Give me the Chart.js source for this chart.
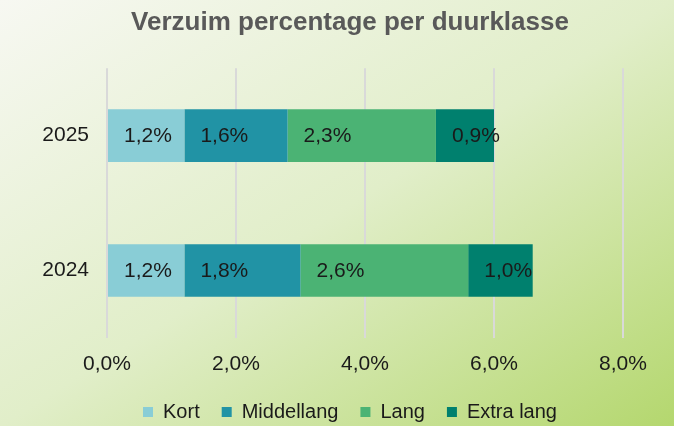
<!DOCTYPE html>
<html>
<head>
<meta charset="utf-8">
<script src="https://cdn.jsdelivr.net/npm/chart.js@4/dist/chart.umd.min.js"></script>
<style>
    html, body { margin: 0; padding: 0; }
    body {
        width: 674px; height: 426px; overflow: hidden;
        background: linear-gradient(to bottom right, #f7f8f2 0%, #e1eec9 50%, #b4d76e 100%);
    }
    #wrap { position: relative; width: 674px; height: 426px; }
</style>
</head>
<body>
<div id="wrap"><canvas id="chart" width="674" height="426"></canvas></div>
<script>
// Years (top to bottom) and the share per duration class
const years = ['2025', '2024'];
const kort = [1.2, 1.2];
const middellang = [1.6, 1.8];
const lang = [2.3, 2.6];
const extraLang = [0.9, 1.0];
const xTicks = [0, 2, 4, 6, 8];

const textColor = '#1a1a1a';
const fontFamily = '"Liberation Sans", Arial, sans-serif';

function pct(v) {
    return v.toFixed(1).replace('.', ',') + '%';
}

// labels inside the bars, left aligned a bit after the start of each segment
const barLabels = {
    id: 'barLabels',
    afterDatasetsDraw(chart) {
        const ctx = chart.ctx;
        ctx.save();
        ctx.font = '21px ' + fontFamily;
        ctx.fillStyle = textColor;
        ctx.textAlign = 'left';
        ctx.textBaseline = 'middle';
        chart.data.datasets.forEach((ds, i) => {
            chart.getDatasetMeta(i).data.forEach((bar, j) => {
                const left = Math.min(bar.base, bar.x);
                ctx.fillText(pct(ds.data[j]), left + 16, bar.y + 1);
            });
        });
        ctx.restore();
    }
};

new Chart(document.getElementById('chart'), {
    type: 'bar',
    data: {
        labels: years,
        datasets: [
            { label: 'Kort', data: kort, backgroundColor: '#89cdd6' },
            { label: 'Middellang', data: middellang, backgroundColor: '#2193a5' },
            { label: 'Lang', data: lang, backgroundColor: '#4bb374' },
            { label: 'Extra lang', data: extraLang, backgroundColor: '#00806e' }
        ]
    },
    options: {
        indexAxis: 'y',
        responsive: false,
        animation: false,
        layout: { padding: { left: 26, right: 0, top: 0, bottom: -6 } },
        datasets: { bar: { categoryPercentage: 1, barPercentage: 0.39 } },
        scales: {
            x: {
                stacked: true,
                min: 0,
                max: 8,
                afterBuildTicks: (scale) => { scale.ticks = xTicks.map(v => ({ value: v })); },
                afterFit: (scale) => { scale.height = 42; scale.paddingRight = 51; },
                grid: { color: '#d9d9d9', lineWidth: 2, drawTicks: false },
                border: { display: false },
                ticks: {
                    padding: 14,
                    color: textColor,
                    font: { family: fontFamily, size: 21 },
                    callback: (v) => pct(v)
                }
            },
            y: {
                stacked: true,
                afterFit: (scale) => { scale.width = 81; },
                grid: { display: false, drawTicks: false },
                border: { display: false },
                ticks: {
                    padding: 18,
                    color: textColor,
                    font: { family: fontFamily, size: 21 }
                }
            }
        },
        plugins: {
            title: {
                display: true,
                text: 'Verzuim percentage per duurklasse',
                color: '#595959',
                font: { family: fontFamily, size: 26, weight: 'bold', lineHeight: 1.2 },
                padding: { top: 7, bottom: 30 }
            },
            legend: {
                position: 'bottom',
                labels: {
                    boxWidth: 10,
                    boxHeight: 10,
                    padding: 22,
                    color: textColor,
                    font: { family: fontFamily, size: 20 }
                }
            },
            tooltip: { enabled: false }
        }
    },
    plugins: [barLabels]
});
</script>
</body>
</html>
